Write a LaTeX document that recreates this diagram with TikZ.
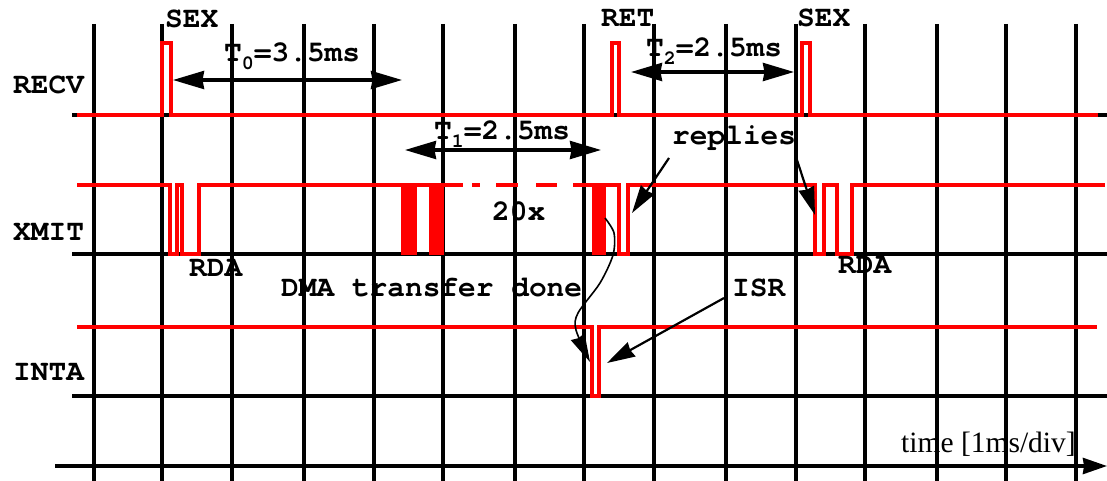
\documentclass[tikz,border=0pt]{standalone}
\usepackage{fontspec}
\setmainfont{Liberation Serif}
\newfontfamily\lblfont{TeX Gyre Cursor}
\usetikzlibrary{arrows.meta}
\newcommand{\subsc}[1]{\raisebox{-8pt}{\fontsize{20}{20}\selectfont #1}}
\begin{document}
\begin{tikzpicture}[x=1pt,y=-1pt,
  gridline/.style={line width=3.3pt, black},
  sig/.style={line width=3.1pt, red, line join=miter},
  blk/.style={fill=red, draw=none},
  lbl/.style={font=\lblfont\bfseries\fontsize{29.5}{30}\selectfont, inner sep=0pt, anchor=base west},
  tlbl/.style={font=\fontsize{29.5}{30}\selectfont, inner sep=0pt, anchor=base west},
  dimarrow/.style={line width=3.2pt, {Stealth[length=31pt,width=18pt,inset=1.5pt]}-{Stealth[length=31pt,width=18pt,inset=1.5pt]}},
  ptr/.style={line width=2.2pt, -{Stealth[length=28pt,width=16pt,inset=1.5pt]}},
  thinptr/.style={line width=1.6pt, -{Stealth[length=28pt,width=15pt,inset=1.5pt]}},
  axisarrow/.style={line width=3.3pt, -{Stealth[length=24pt,width=16pt,inset=1pt]}},
]
\useasboundingbox (0,0) rectangle (1107,481);
\fill[white] (0,0) rectangle (1107,481);

% vertical grid
\foreach \x in {94,162,232,304,374,443,515,584,654,726,796,865,937,1006,1076}
  \draw[gridline] (\x,24) -- (\x,490);

% horizontal baselines
\coordinate (r0) at (72,115);  \coordinate (r1) at (1107,115);
\coordinate (x0) at (72,254);  \coordinate (x1) at (1107,254);
\coordinate (i0) at (72,396);  \coordinate (i1) at (1107,396);
\coordinate (ta0) at (55,466); \coordinate (ta1) at (1107,466);
\draw[gridline] (r0) -- (r1);
\draw[gridline] (x0) -- (x1);
\draw[gridline] (i0) -- (i1);
\draw[axisarrow] (ta0) -- (ta1);

% RECV signal
\draw[sig] (77,115) -- (162,115) -- (162,43) -- (171,43) -- (171,115)
  -- (612,115) -- (612,43) -- (619,43) -- (619,115)
  -- (802,115) -- (802,43) -- (810,43) -- (810,115) -- (1098,115);

% XMIT signal
\draw[sig] (77,185) -- (170,185) -- (170,254) -- (177,254) -- (177,185)
  -- (182,185) -- (182,254) -- (199,254) -- (199,185) -- (463,185);
\draw[sig] (472,185) -- (480,185);
\draw[sig] (496,185) -- (518,185);
\draw[sig] (536,185) -- (557,185);
\draw[sig] (573,185) -- (619,185) -- (619,254) -- (628,254) -- (628,185)
  -- (815,185) -- (815,254) -- (824,254) -- (824,185)
  -- (837,185) -- (837,254) -- (852,254) -- (852,185) -- (1105,185);
\fill[blk] (401,184) rectangle (417,255);
\fill[blk] (429,184) rectangle (444,255);
\fill[blk] (592,184) rectangle (606,255);

% INTA signal
\draw[sig] (77,327) -- (592,327) -- (592,396) -- (599,396) -- (599,327) -- (1097,327);

% labels
\node[lbl] (recv) at (13,94) {RECV};
\node[lbl] (xmit) at (13,240) {XMIT};
\node[lbl] (inta) at (13,380) {INTA};
\node[lbl] (sex1) at (165,28) {SEX};
\node[lbl] (ret) at (601,27) {RET};
\node[lbl] (sex2) at (797,27) {SEX};
\node[lbl] (t0) at (224,62) {T\subsc{0}=3.5ms};
\node[lbl] (t1) at (434,140) {T\subsc{1}=2.5ms};
\node[lbl] (t2) at (646,57) {T\subsc{2}=2.5ms};
\node[lbl] (rep) at (672,145) {replies};
\node[lbl] (twenty) at (492,220) {20x};
\node[lbl] (rda1) at (189,276) {RDA};
\node[lbl] (rda2) at (838,273) {RDA};
\node[lbl] (dma) at (281,296) {DMA transfer done};
\node[lbl] (isr) at (732,296) {ISR};
\node[tlbl] (time) at (901,452) {time [1ms/div]};

% dimension arrows
\coordinate (t0a) at (173,80);  \coordinate (t0b) at (402,80);
\coordinate (t1a) at (405,150); \coordinate (t1b) at (601,150);
\coordinate (t2a) at (631,72);  \coordinate (t2b) at (794,72);
\draw[dimarrow] (t0a) -- (t0b);
\draw[dimarrow] (t1a) -- (t1b);
\draw[dimarrow] (t2a) -- (t2b);

% pointers
\coordinate (rs1) at (669,158); \coordinate (re1) at (632,213);
\coordinate (rs2) at (796,157); \coordinate (re2) at (815,215);
\coordinate (is) at (724,298);  \coordinate (ie) at (607,363);
\draw[ptr] (rs1) -- (re1);
\draw[ptr] (rs2) -- (re2);
\draw[ptr] (is) -- (ie);
\draw[thinptr] plot[smooth, tension=0.5] coordinates {(605,218) (614,233) (613,255) (600,283) (578,313) (576,330) (590,362)};
\end{tikzpicture}
\end{document}
